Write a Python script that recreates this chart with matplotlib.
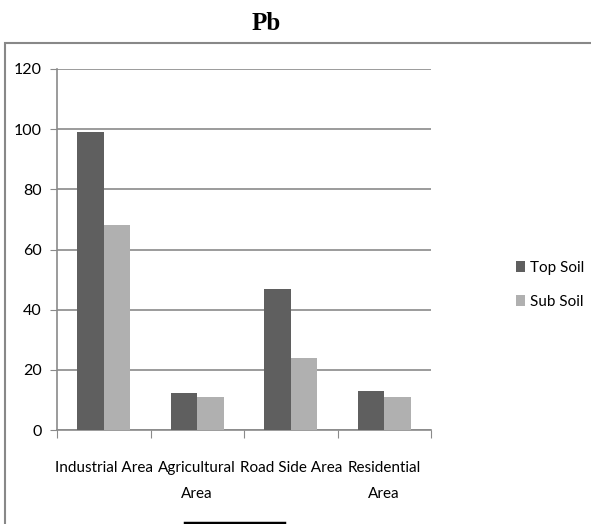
import matplotlib.pyplot as plt
import numpy as np
from matplotlib.patches import Rectangle
from matplotlib.lines import Line2D

categories = ["Industrial Area", "Agricultural\nArea", "Road Side Area", "Residential\nArea"]
top_soil = [99.2, 12.2, 47.0, 12.9]
sub_soil = [68.2, 11.0, 24.0, 11.0]
series_names = ["Top Soil", "Sub Soil"]

W, H = 591, 524
plt.rcParams['font.family'] = ['Lato', 'DejaVu Sans']

fig = plt.figure(figsize=(W / 100, H / 100), dpi=100)

# outer chart frame
fig.patches.append(Rectangle((5 / W, -0.05), 1.0, (H - 43) / H + 0.05,
                             transform=fig.transFigure, fill=False,
                             edgecolor='#888888', linewidth=1.5))
fig.add_artist(Line2D([185 / W, 284 / W], [1.5 / H, 1.5 / H],
                      transform=fig.transFigure, color='black', linewidth=2.5))

fig.text(266 / W, 1 - 23 / H, "Pb", ha='center', va='center',
         fontsize=18, fontweight='bold', family='Liberation Serif')

ax = fig.add_axes([57 / W, 94 / H, (431 - 57) / W, (430 - 69) / H])

x = np.arange(len(categories))
bw = 0.283
ax.bar(x - bw / 2, top_soil, bw, color='#5f5f5f', label=series_names[0], zorder=3)
ax.bar(x + bw / 2, sub_soil, bw, color='#b0b0b0', label=series_names[1], zorder=3)

ax.set_xlim(-0.5, len(categories) - 0.5)
ax.set_ylim(0, 120)
ax.set_yticks(range(0, 121, 20))
ax.yaxis.grid(True, color='#8a8a8a', linewidth=1.2, zorder=0)

for s in ['top', 'right']:
    ax.spines[s].set_visible(False)
for s in ['left', 'bottom']:
    ax.spines[s].set_color('#8a8a8a')
    ax.spines[s].set_linewidth(1.2)

ax.set_xticks(np.arange(-0.5, len(categories) + 0.5, 1.0))
ax.set_xticklabels([])
ax.set_xticks(x, minor=True)
ax.set_xticklabels(categories, minor=True, fontsize=11, linespacing=2.1)
ax.tick_params(axis='x', which='major', length=6, color='#8a8a8a', direction='out')
ax.tick_params(axis='x', which='minor', length=0, pad=22)
ax.tick_params(axis='y', length=5, color='#8a8a8a', labelsize=11.5, pad=6)

ax.legend(loc='center left', bbox_to_anchor=(502 / W, 1 - 285 / H),
          bbox_transform=fig.transFigure, frameon=False, fontsize=11,
          handlelength=0.6, handleheight=0.7, handletextpad=0.3,
          labelspacing=1.3)

fig.savefig("out.png", dpi=100)
